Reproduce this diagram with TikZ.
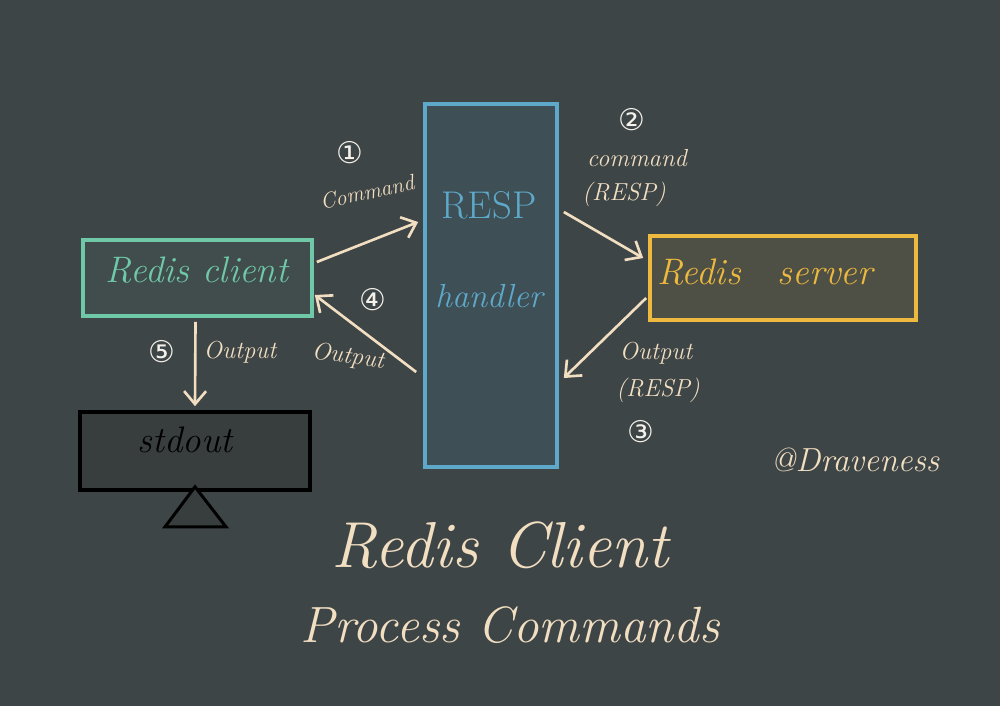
\documentclass[tikz,border=0pt]{standalone}
\usepackage{fontspec}
\newfontfamily\symfont{DejaVu Sans}
\usetikzlibrary{arrows.meta,calc}
\definecolor{bgc}{HTML}{3E4547}
\definecolor{cream}{HTML}{F2DFC2}
\definecolor{teal}{HTML}{6FC8A8}
\definecolor{tealfill}{HTML}{414C4C}
\definecolor{blu}{HTML}{5EA9CA}
\definecolor{blufill}{HTML}{3E4F56}
\definecolor{yel}{HTML}{EDB93E}
\definecolor{yelfill}{HTML}{4F5045}
\definecolor{stdfill}{HTML}{383D3E}
\definecolor{circw}{HTML}{F4F1EA}
\tikzset{
  boxstyle/.style={draw, line width=2.1pt, inner sep=0pt},
  arr/.style={draw=cream, line width=1.5pt, -{Straight Barb[length=2.6mm,width=4.4mm,line width=1.5pt]}},
  lbl/.style={text=cream, font=\itshape\fontsize{14}{16}\selectfont, inner sep=1pt},
  circ/.style={text=circw, font=\symfont\fontsize{17}{18}\selectfont, inner sep=1pt},
  title/.style={text=cream, font=\itshape, inner sep=0pt}
}
\begin{document}
\begin{tikzpicture}[x=0.02cm,y=-0.02cm]
\fill[bgc] (0,0) rectangle (1000,706);
\useasboundingbox (0,0) rectangle (1000,706);

% boxes
\node[boxstyle, draw=teal, fill=tealfill, minimum width=4.58cm, minimum height=1.52cm] (client) at (197.5,278) {};
\node[text=teal, font=\itshape\fontsize{21}{24}\selectfont] (clientt) at (197,270) {Redis client};

\node[boxstyle, draw=blu, fill=blufill, minimum width=2.64cm, minimum height=7.26cm] (resp) at (491,285.5) {};
\node[text=blu, font=\fontsize{22}{24}\selectfont] (respt) at (489,205) {RESP};
\node[text=blu, font=\itshape\fontsize{19}{22}\selectfont] (handt) at (489,296) {handler};

\node[boxstyle, draw=yel, fill=yelfill, minimum width=5.32cm, minimum height=1.68cm] (server) at (783,278) {};
\node[text=yel, font=\itshape\fontsize{21}{24}\selectfont] (servert) at (765,272) {Redis\quad server};

\node[boxstyle, draw=black, fill=stdfill, minimum width=4.6cm, minimum height=1.56cm] (stdout) at (195,451) {};
\node[text=black, font=\itshape\fontsize{21}{24}\selectfont] (stdoutt) at (185,440) {stdout};

% stand triangle
\draw[black, line width=1.7pt, fill=stdfill] ($(stdout.south)+(0,-5)$) -- ($(stdout.south)+(31,35)$) -- ($(stdout.south)+(-30,35)$) -- cycle;

% arrows
\draw[arr] ($(client.east)+(3,-16)$) -- ($(resp.west)+(-5,-63.5)$);
\draw[arr] ($(resp.east)+(5,-73.5)$) -- ($(server.west)+(-5,-20)$);
\draw[arr] ($(server.west)+(-2,20)$) -- ($(resp.east)+(5,92.5)$);
\draw[arr] ($(resp.west)+(-7,86.5)$) -- ($(client.east)+(1,17)$);
\draw[arr] ($(client.south)+(-2,4)$) -- ($(stdout.north)+(0,-4)$);

% labels
\node[circ] (c1) at (350,153) {①};
\node[lbl, rotate=12, font=\itshape\fontsize{12.5}{14}\selectfont] (l1) at (367,192) {Command};
\node[circ] (c2) at (632,120) {②};
\node[lbl] (l2a) at (637,158) {command};
\node[lbl] (l2b) at (624,194) {(RESP)};
\node[lbl] (l3a) at (656,353) {Output};
\node[lbl] (l3b) at (658,390) {(RESP)};
\node[circ] (c3) at (641,432) {③};
\node[circ] (c4) at (373,300) {④};
\node[lbl, rotate=-8] (l4) at (348,357) {Output};
\node[circ] (c5) at (162,352) {⑤};
\node[lbl] (l5) at (240,352) {Output};

\node[text=cream, font=\itshape\fontsize{19}{22}\selectfont] (sig) at (855,460) {@Draveness};

\node[title, font=\itshape\fontsize{37}{40}\selectfont] (t1) at (500,545) {Redis Client};
\node[title, font=\itshape\fontsize{29}{32}\selectfont] (t2) at (510,625) {Process Commands};
\end{tikzpicture}
\end{document}
